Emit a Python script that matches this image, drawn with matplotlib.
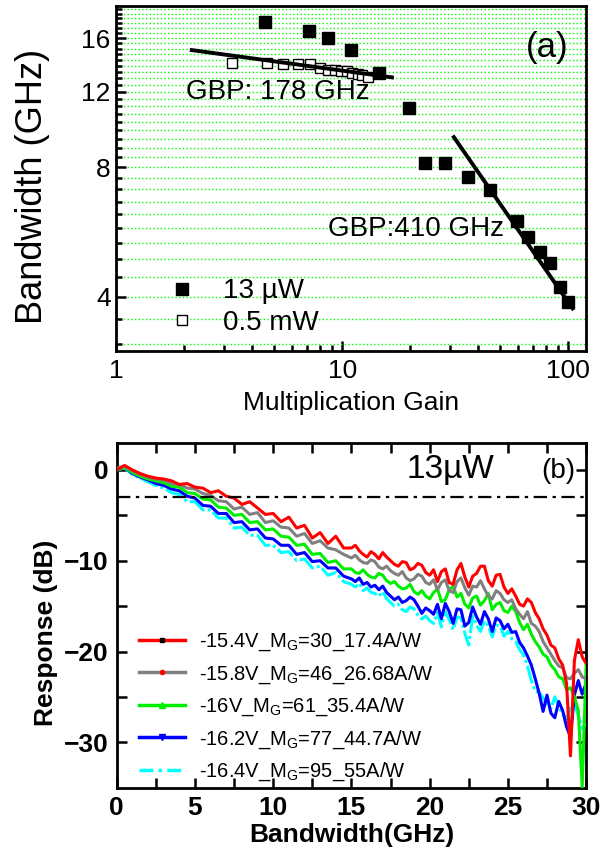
import numpy as np
import matplotlib
matplotlib.use('Agg')
import matplotlib.pyplot as plt
from matplotlib.lines import Line2D
from matplotlib.ticker import FixedLocator, NullFormatter, LogLocator

plt.rcParams['font.family'] = ['Liberation Sans', 'DejaVu Sans']
plt.rcParams['mathtext.fontset'] = 'custom'
plt.rcParams['mathtext.rm'] = 'Liberation Sans'
plt.rcParams['mathtext.it'] = 'Liberation Sans:italic'
plt.rcParams['mathtext.bf'] = 'Liberation Sans:bold'

# ---- panel (a): bandwidth vs multiplication gain ----
gain_13uw = [4.55, 7.1, 8.7, 10.9, 14.5, 19.7, 23.3, 28.6, 35.9, 45.1,
             59.5, 66.7, 75.0, 82.8, 92.4, 100.0]
bw_13uw = [17.4, 16.6, 16.0, 15.0, 13.3, 11.0, 8.2, 8.2, 7.6, 7.1,
           6.0, 5.5, 5.08, 4.79, 4.21, 3.9]

gain_05mw = [3.26, 4.67, 5.48, 6.38, 7.17, 7.98, 8.7, 9.3, 9.9, 10.5,
             11.1, 11.7, 12.3, 13.0]
bw_05mw = [13.97, 13.97, 13.9, 13.9, 13.9, 13.6, 13.5, 13.5, 13.4, 13.4,
           13.3, 13.2, 13.1, 13.0]

fit_low_gain = [2.16, 16.6]
fit_low_bw = [15.0, 12.96]
fit_high_gain = [31.2, 104.6]
fit_high_bw = [9.41, 3.76]

# ---- panel (b): frequency response ----
freq = np.concatenate([np.arange(0, 15, 0.5), np.arange(15, 30.001, 0.25)])

resp_red = [0.0, 0.5, 0.0, -0.4, -0.7, -0.9, -1.0, -1.2, -1.6, -1.5,
            -1.9, -2.0, -2.5, -2.3, -2.9, -3.1, -3.8, -3.5, -4.2, -4.9,
            -4.8, -5.7, -5.2, -6.4, -6.1, -7.5, -6.9, -8.1, -7.3, -8.6,
            -8.6, -8.3, -8.9, -9.3, -9.6, -9.0, -9.3, -9.8, -9.1, -9.6,
            -10.0, -10.4, -10.6, -10.1, -10.2, -11.0, -10.8, -10.3, -10.5, -11.3,
            -11.6, -11.0, -12.3, -11.2, -10.9, -12.4, -12.6, -11.0, -10.3, -11.8,
            -12.9, -11.7, -11.4, -10.6, -10.6, -12.2, -12.8, -11.6, -11.5, -12.9,
            -13.6, -13.1, -13.9, -14.8, -15.0, -14.2, -14.6, -15.7, -16.4, -17.5,
            -18.2, -19.3, -19.6, -20.8, -21.5, -23.5, -31.5, -21.0, -18.7, -20.6,
            -21.3]
resp_gray = [0.2, 0.4, -0.1, -0.5, -0.8, -1.0, -1.1, -1.5, -1.6, -2.0,
             -2.1, -2.6, -2.8, -3.4, -3.5, -4.3, -4.1, -4.9, -4.7, -5.8,
             -5.6, -6.3, -6.4, -7.3, -7.0, -8.1, -7.8, -8.6, -8.8, -9.3,
             -9.7, -9.4, -9.9, -10.2, -10.3, -9.9, -10.1, -10.7, -10.9, -10.6,
             -11.1, -11.4, -11.6, -11.2, -11.9, -12.2, -12.0, -11.5, -11.7, -12.4,
             -12.6, -12.1, -13.2, -12.4, -12.1, -13.3, -13.5, -12.3, -11.9, -13.0,
             -13.8, -12.8, -12.9, -12.2, -13.1, -13.9, -14.2, -13.3, -13.6, -14.3,
             -14.6, -14.3, -15.3, -15.9, -16.4, -15.6, -16.9, -17.2, -17.8, -18.9,
             -19.6, -20.3, -21.0, -21.6, -21.8, -22.9, -23.0, -22.4, -22.0, -22.8,
             -23.0]
resp_green = [0.0, 0.3, -0.3, -0.7, -1.0, -1.2, -1.4, -1.8, -1.9, -2.5,
              -2.6, -3.2, -3.3, -4.1, -4.2, -5.0, -4.9, -5.8, -5.7, -6.6,
              -6.5, -7.3, -7.4, -8.3, -8.2, -9.3, -9.2, -10.2, -10.0, -10.9,
              -10.9, -11.3, -11.4, -11.0, -11.5, -11.8, -11.9, -11.4, -11.6, -12.2,
              -12.5, -12.3, -12.8, -13.1, -13.0, -12.6, -13.4, -13.7, -13.3, -13.9,
              -14.2, -13.5, -13.1, -14.5, -14.3, -13.2, -12.8, -14.0, -13.6, -14.8,
              -15.2, -14.1, -13.9, -14.9, -14.4, -13.6, -15.4, -14.8, -14.6, -15.5,
              -15.7, -15.0, -15.6, -16.8, -17.6, -17.0, -18.1, -18.9, -19.5, -20.3,
              -20.6, -21.5, -22.0, -22.8, -23.0, -24.2, -24.0, -25.0, -26.5, -34.9,
              -21.5]
resp_blue = [0.0, 0.3, -0.4, -0.8, -1.1, -1.5, -1.7, -2.1, -2.3, -2.9,
             -3.1, -3.9, -4.0, -4.8, -4.8, -5.8, -5.7, -6.6, -6.5, -7.5,
             -7.6, -8.3, -8.3, -9.3, -9.1, -10.1, -10.0, -10.8, -10.8, -11.7,
             -12.0, -12.3, -11.9, -12.6, -12.4, -12.9, -12.7, -13.2, -12.8, -13.5,
             -13.9, -14.3, -14.0, -14.6, -14.4, -14.0, -14.3, -15.0, -15.8, -15.2,
             -15.5, -15.9, -14.8, -16.4, -14.7, -15.6, -16.9, -15.3, -15.4, -17.2,
             -16.8, -15.1, -16.2, -17.0, -15.6, -16.4, -17.8, -16.3, -16.6, -17.5,
             -17.0, -17.9, -17.8, -19.0, -19.6, -20.5, -21.5, -23.0, -24.6, -26.6,
             -24.8, -26.8, -27.3, -25.5, -26.5, -28.3, -29.4, -24.8, -23.2, -24.7,
             -23.5]
resp_cyan = [0.0, 0.2, -0.5, -0.9, -1.3, -1.7, -2.0, -2.5, -2.7, -3.5,
             -3.5, -4.4, -4.4, -5.3, -5.3, -6.4, -6.3, -7.2, -7.2, -8.3,
             -8.3, -9.1, -9.0, -10.0, -9.8, -10.8, -10.6, -11.6, -11.3, -12.3,
             -12.6, -12.9, -12.5, -13.3, -13.0, -13.5, -13.6, -13.9, -13.4, -14.2,
             -14.6, -15.0, -14.8, -15.4, -15.6, -15.1, -15.3, -16.0, -16.4, -16.1,
             -16.6, -16.9, -15.7, -17.3, -15.6, -16.5, -17.6, -16.2, -16.3, -18.0,
             -19.3, -16.1, -17.1, -17.8, -16.6, -17.2, -18.4, -17.1, -17.2, -18.3,
             -17.8, -18.6, -18.9, -19.8, -20.4, -21.6, -23.2, -24.4, -24.5, -25.1,
             -25.8, -26.3, -25.0, -26.1, -26.9, -27.4, -26.2, -25.6, -27.1, -28.5,
             -27.9]

labels_b = [r'-15.4V_M$_\mathrm{G}$=30_17.4A/W',
            r'-15.8V_M$_\mathrm{G}$=46_26.68A/W',
            r'-16V_M$_\mathrm{G}$=61_35.4A/W',
            r'-16.2V_M$_\mathrm{G}$=77_44.7A/W',
            r'-16.4V_M$_\mathrm{G}$=95_55A/W']

fig = plt.figure(figsize=(6.08, 8.51), dpi=100)

# ================= panel (a) =================
ax1 = fig.add_axes([0.191, 0.588, 0.773, 0.405])
ax1.set_xscale('log')
ax1.set_yscale('log')
ax1.set_xlim(1, 120)
ax1.set_ylim(3, 19)

ax1.set_xticks([1, 10, 100])
ax1.set_xticklabels(['1', '10', '100'])
ax1.xaxis.set_minor_locator(LogLocator(base=10, subs=np.arange(2, 10)))
ax1.xaxis.set_minor_formatter(NullFormatter())
ax1.set_yticks([4, 8, 12, 16])
ax1.set_yticklabels(['4', '8', '12', '16'])
ax1.yaxis.set_minor_locator(FixedLocator(4 + np.arange(-2, 34) * 4 / 9))
ax1.yaxis.set_minor_formatter(NullFormatter())

ax1.grid(axis='y', which='both', color='#00ff00', ls=':', lw=1.0, zorder=0)
ax1.set_axisbelow(True)

ax1.plot(gain_05mw, bw_05mw, 's', ms=7.5, mfc='white', mec='k', mew=1.0,
         label='0.5 mW', zorder=3)
ax1.plot(fit_low_gain, fit_low_bw, '-', color='k', lw=2.8, zorder=4)
ax1.plot(fit_high_gain, fit_high_bw, '-', color='k', lw=2.8, zorder=4)
ax1.plot(gain_13uw, bw_13uw, 's', ms=9, color='k', label='13 µW', zorder=5)

ax1.text(186 / 608, 1 - 92 / 851, 'GBP: 178 GHz', transform=fig.transFigure,
         fontsize=20, ha='left', va='center')
ax1.text(328 / 608, 1 - 229 / 851, 'GBP:410 GHz', transform=fig.transFigure,
         fontsize=20, ha='left', va='center')
ax1.text(547 / 608, 1 - 48 / 851, '(a)', transform=fig.transFigure,
         fontsize=25, ha='center', va='center')

h, l = ax1.get_legend_handles_labels()
ax1.legend(h[::-1], l[::-1], loc='upper left', bbox_to_anchor=(0.08, 0.25),
           frameon=False, fontsize=20, handlelength=1.0, handletextpad=1.0,
           labelspacing=0.2, borderpad=0, numpoints=1)

ax1.set_xlabel('Multiplication Gain', fontsize=19, labelpad=6)
ax1.set_ylabel('Bandwidth (GHz)', fontsize=26)
ax1.yaxis.set_label_coords(-0.14, 0.475)

ax1.tick_params(which='both', direction='in', top=False, right=False,
                width=1.8, labelsize=19)
ax1.tick_params(axis='y', pad=4)
ax1.tick_params(axis='x', pad=6)
ax1.tick_params(which='major', length=7)
ax1.tick_params(which='minor', length=4)
for s in ax1.spines.values():
    s.set_linewidth(2.0)

# ================= panel (b) =================
ax2 = fig.add_axes([0.192, 0.0744, 0.772, 0.4054])
ax2.set_xlim(0, 30)
ax2.set_ylim(-35, 3)

colors = ['#ff0000', '#808080', '#00ee00', '#0000ff', '#00ffff']
curves = [resp_red, resp_gray, resp_green, resp_blue, resp_cyan]
# draw bottom-most first so red ends on top
for c, y in list(zip(colors, curves))[::-1]:
    ls = (0, (6, 1, 1, 1)) if c == '#00ffff' else '-'
    ax2.plot(freq, y, color=c, lw=2.2, ls=ls, zorder=3)

ax2.axhline(-3, color='k', lw=1.6, ls=(0, (6, 2.5, 1.5, 2.5)), zorder=4)

handles = [
    Line2D([], [], color='#ff0000', lw=2.5, marker='s', ms=3, mfc='k', mec='k'),
    Line2D([], [], color='#808080', lw=2.5, marker='o', ms=3, mfc='#ff0000', mec='#ff0000'),
    Line2D([], [], color='#00ee00', lw=2.5, marker='^', ms=4, mfc='#00ee00', mec='#00ee00'),
    Line2D([], [], color='#0000ff', lw=2.5, marker='v', ms=4, mfc='#0000ff', mec='#0000ff'),
    Line2D([], [], color='#00ffff', lw=2.5, ls=(0, (4, 1.5, 1, 1.5))),
]
ax2.legend(handles, labels_b, loc='upper left', bbox_to_anchor=(0.025, 0.485),
           frameon=False, fontsize=14.5, handlelength=2.3, handletextpad=0.7,
           labelspacing=0.5, borderpad=0, numpoints=1)

ax2.text(21.3, 0.1, '13µW', fontsize=24, ha='center', va='center')
ax2.text(28.2, -0.1, '(b)', fontsize=20, ha='center', va='center')

ax2.set_xticks(np.arange(0, 31, 5))
ax2.xaxis.set_minor_locator(FixedLocator(np.arange(2.5, 30, 5)))
ax2.set_yticks([0, -10, -20, -30])
ax2.yaxis.set_minor_locator(FixedLocator([-5, -15, -25]))
ax2.tick_params(which='both', direction='in', top=True, right=True,
                width=1.8, labelsize=19, pad=6)
ax2.tick_params(which='major', length=7)
ax2.tick_params(which='minor', length=7)
for t in ax2.get_xticklabels() + ax2.get_yticklabels():
    t.set_fontweight('bold')
for s in ax2.spines.values():
    s.set_linewidth(2.0)

ax2.set_xlabel('Bandwidth(GHz)', fontsize=19, fontweight='bold', labelpad=2)
ax2.set_ylabel('Response (dB)', fontsize=19, fontweight='bold')
ax2.yaxis.set_label_coords(-0.125, 0.45)

fig.savefig('out.png', dpi=100)
